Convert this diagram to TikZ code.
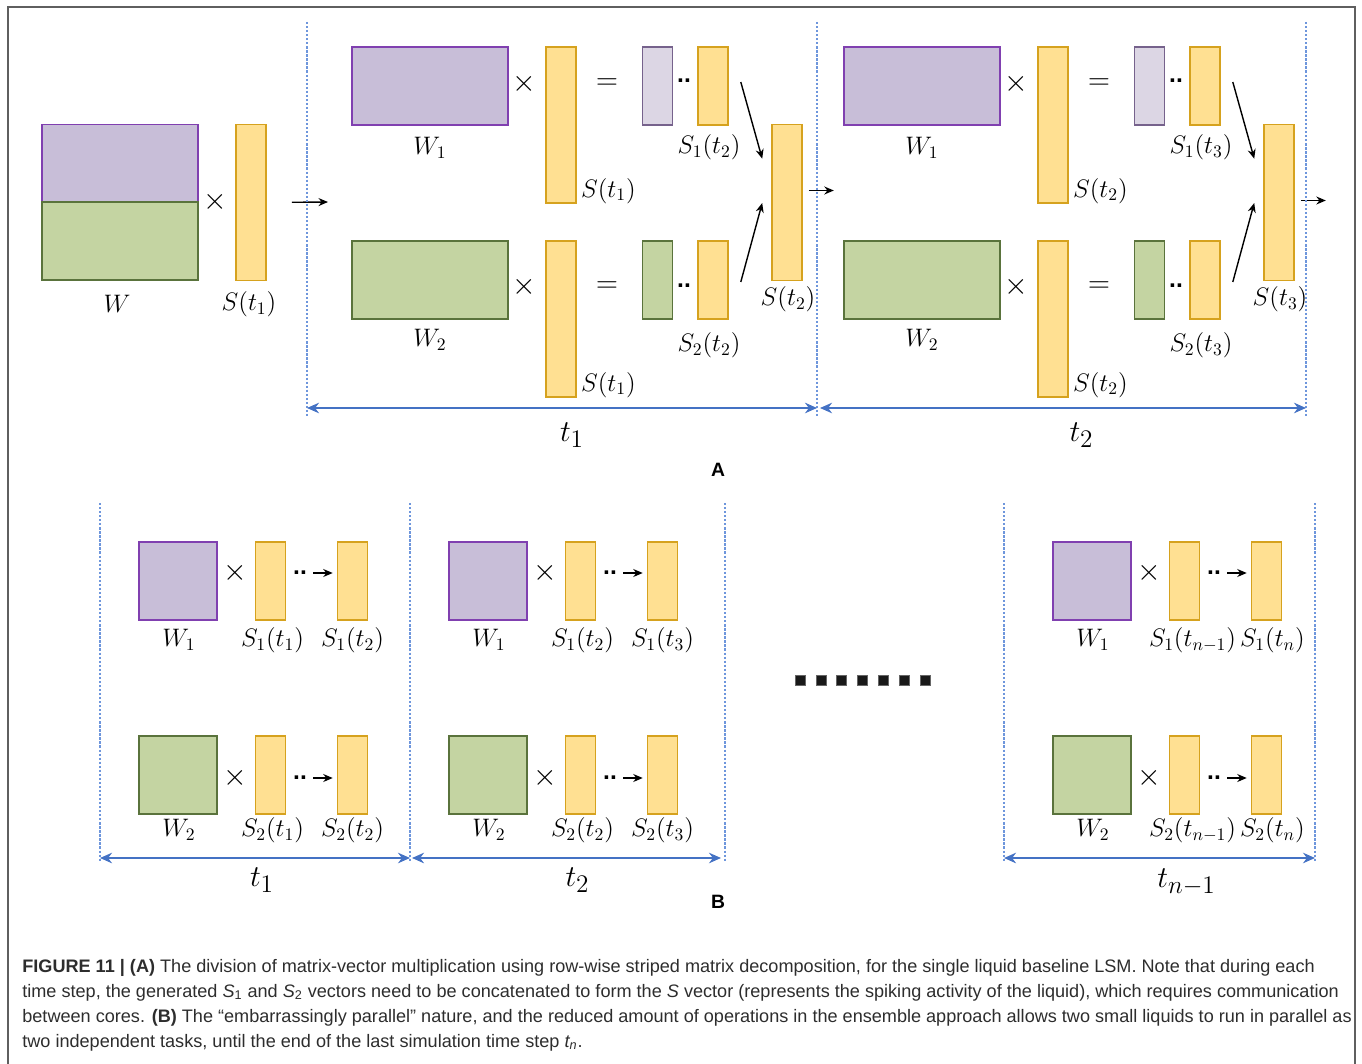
\documentclass[tikz,border=0pt]{standalone}
\usepackage{fontspec}
\usepackage{amsmath}
\setsansfont{Liberation Sans}
\newfontfamily\capfont{Liberation Sans}
\usetikzlibrary{calc}
\usetikzlibrary{positioning}
\usetikzlibrary{arrows.meta}
\definecolor{matpurple}{RGB}{128,64,176}
\definecolor{matpurplefill}{RGB}{200,190,216}
\definecolor{respurple}{RGB}{118,98,140}
\definecolor{respurplefill}{RGB}{220,214,228}
\definecolor{matgreen}{RGB}{90,115,60}
\definecolor{matgreenfill}{RGB}{196,212,162}
\definecolor{vecgold}{RGB}{214,162,30}
\definecolor{vecfill}{RGB}{255,224,146}
\definecolor{stepblue}{RGB}{110,150,220}
\definecolor{arrowblue}{RGB}{68,114,196}
\definecolor{framegray}{RGB}{95,95,95}
\definecolor{captext}{RGB}{45,45,45}
\tikzstyle{matnode} = [draw, rectangle, line width=0.9pt, inner sep=0pt]
\tikzstyle{colorP} = [draw=matpurple, fill=matpurplefill]
\tikzstyle{colorG} = [draw=matgreen, fill=matgreenfill]
\tikzstyle{colorL} = [draw=respurple, fill=respurplefill]
\tikzstyle{colorY} = [draw=vecgold, fill=vecfill]
\tikzstyle{bigmat} = [matnode, minimum width=3.12cm, minimum height=1.56cm]
\tikzstyle{sqmat} = [matnode, minimum width=1.56cm, minimum height=1.56cm]
\tikzstyle{longvec} = [matnode, colorY, minimum width=0.6cm, minimum height=3.12cm]
\tikzstyle{shortvec} = [matnode, minimum width=0.6cm, minimum height=1.56cm]
\tikzstyle{lbl} = [font=\fontsize{14}{16}\selectfont, inner sep=0pt]
\tikzstyle{steplbl} = [font=\fontsize{19}{21}\selectfont, inner sep=0pt]
\tikzstyle{opsym} = [font=\fontsize{18}{20}\selectfont, inner sep=0pt]
\tikzstyle{dotpair} = [font=\sffamily\bfseries\fontsize{14}{16}\selectfont, inner sep=0pt]
\tikzstyle{dotsq} = [fill=black!90, draw=black!60, line width=0.2pt, minimum size=0.2cm, inner sep=0pt]
\tikzstyle{panellbl} = [font=\sffamily\bfseries\fontsize{11}{13}\selectfont, inner sep=0pt]
\tikzstyle{stepline} = [draw=stepblue, line width=0.6pt, dash pattern=on 1.3pt off 1pt]
\tikzstyle{steparrow} = [draw=arrowblue, line width=1.1pt, {Stealth[length=2.4mm,width=2.1mm]}-{Stealth[length=2.4mm,width=2.1mm]}]
\tikzstyle{joinarrow} = [-{Stealth[length=1.9mm,width=1.6mm]}, line width=0.8pt]
\tikzstyle{capline} = [font=\capfont\fontsize{10.3}{12}\selectfont, text=captext, anchor=base west, inner sep=0pt]

\begin{document}
\begin{tikzpicture}[x=0.02cm, y=-0.02cm]
\useasboundingbox (0,0) rectangle (1362,1064);
\draw[framegray, line width=1.1pt] (8,1064) -- (8,7) -- (1355,7) -- (1355,1064);

% (A) whole product
\node[bigmat, colorP] (Wtop) at (120,163.5) {};
\node[bigmat, colorG] (Wbot) at (120,241) {};
\node[lbl] (Wlab) at ($(Wbot)+(-3,63)$) {$W$};
\node[opsym] (times0) at (215,202) {$\times$};
\node[longvec] (S0) at (251,202.5) {};
\node[lbl] (S0lab) at ($(S0)+(-2,102)$) {$S(t_1)$};
\coordinate (in1) at (328,202);
\draw[joinarrow, shorten <=0.5cm] (S0.east) -- (in1);

% (A) two time steps
\foreach \s/\n/\dx/\ay in {1/2/0/-12, 2/3/492/-2}{
\begin{scope}[xshift=\dx*0.02cm]
    \node[bigmat, colorP] (Wu\s) at (430,86) {};
    \node[lbl] (Wulab\s) at ($(Wu\s)+(0,62)$) {$W_1$};
    \node[opsym] (xu\s) at (524,84) {$\times$};
    \node[longvec] (Su\s) at (561,125) {};
    \node[lbl, anchor=west] (Sulab\s) at ($(Su\s.south east)+(4,-13)$) {$S(t_\s)$};
    \node[opsym] (equ\s) at (607,84) {$=$};
    \node[shortvec, colorL] (Ru\s) at (657.5,86) {};
    \node[dotpair] (du\s) at (684,81) {..};
    \node[shortvec, colorY] (Yu\s) at (713,86) {};
    \node[lbl] (Yulab\s) at ($(Yu\s)+(-4,61)$) {$S_1(t_\n)$};

    \node[bigmat, colorG] (Wl\s) at (430,280) {};
    \node[lbl] (Wllab\s) at ($(Wl\s)+(0,60)$) {$W_2$};
    \node[opsym] (xl\s) at (524,287) {$\times$};
    \node[longvec] (Sl\s) at (561,319) {};
    \node[lbl, anchor=west] (Sllab\s) at ($(Sl\s.south east)+(4,-13)$) {$S(t_\s)$};
    \node[opsym] (eql\s) at (607,287) {$=$};
    \node[shortvec, colorG] (Rl\s) at (657.5,280) {};
    \node[dotpair] (dl\s) at (684,286) {..};
    \node[shortvec, colorY] (Yl\s) at (713,280) {};
    \node[lbl] (Yllab\s) at ($(Yl\s)+(-4,65)$) {$S_2(t_\n)$};

    \node[longvec] (C\s) at (787,202.5) {};
    \node[lbl] (Clab\s) at ($(C\s)+(1,97)$) {$S(t_\n)$};
    \draw[joinarrow] ($(Yu\s.east)+(12,-4)$) -- ($(C\s.north west)+(-9,35)$);
    \draw[joinarrow] ($(Yl\s.east)+(12,2)$) -- ($(C\s.west)+(-9,0.5)$);
    \coordinate (out\s) at ($(C\s.east)+(31,\ay)$);
    \draw[joinarrow] ($(C\s.east)+(6,\ay)$) -- (out\s);
\end{scope}
}

% (A) time step marks
\coordinate (a0) at (307,408);
\coordinate (a1) at (817,408);
\coordinate (a2) at (1306,408);
\foreach \c in {a0,a1,a2}
    \draw[stepline] ($(\c)+(0,-386)$) -- ($(\c)+(0,10)$);
\draw[steparrow] (a0) -- (a1);
\draw[steparrow] ($(a1)+(3,0)$) -- (a2);
\node[steplbl] (tA1) at ($(a0)!0.5!(a1)+(10,27)$) {$t_1$};
\node[steplbl] (tA2) at ($(a1)!0.5!(a2)+(20,27)$) {$t_2$};
\node[panellbl] (labA) at (718,470) {A};

% (B) independent liquids
\foreach \g/\dx in {1/0, 2/310, 3/914}{
\begin{scope}[xshift=\dx*0.02cm]
    \node[sqmat, colorP] (Bu\g) at (178,581) {};
    \node[lbl] (Bulab\g) at ($(Bu\g)+(1,59)$) {$W_1$};
    \node[opsym] (bxu\g) at (235,573) {$\times$};
    \node[shortvec, colorY] (Pu\g) at (270.5,581) {};
    \node[shortvec, colorY] (Qu\g) at (352.5,581) {};
    \node[dotpair] (Du\g) at (300,573) {..};
    \draw[joinarrow, shorten <=0.12cm, shorten >=0.08cm] (Du\g.east) -- (Du\g.east -| Qu\g.west);

    \node[sqmat, colorG] (Bl\g) at (178,775) {};
    \node[lbl] (Bllab\g) at ($(Bl\g)+(1,55)$) {$W_2$};
    \node[opsym] (bxl\g) at (235,778) {$\times$};
    \node[shortvec, colorY] (Pl\g) at (270.5,775) {};
    \node[shortvec, colorY] (Ql\g) at (352.5,775) {};
    \node[dotpair] (Dl\g) at (300,778) {..};
    \draw[joinarrow, shorten <=0.12cm, shorten >=0.08cm] (Dl\g.east) -- (Dl\g.east -| Ql\g.west);
\end{scope}
}
\foreach \g/\a/\b/\sh in {1/1/2/0, 2/2/3/0, 3/{n-1}/n/6}{
    \node[lbl] (Pulab\g) at ($(Pu\g)+(2+\sh,59)$) {$S_1(t_{\a})$};
    \node[lbl] (Qulab\g) at ($(Qu\g)+(\sh,59)$) {$S_1(t_{\b})$};
    \node[lbl] (Pllab\g) at ($(Pl\g)+(2+\sh,55)$) {$S_2(t_{\a})$};
    \node[lbl] (Qllab\g) at ($(Ql\g)+(\sh,55)$) {$S_2(t_{\b})$};
}

% (B) gap between steps
\foreach \k in {0,...,6}
    \node[dotsq] (el\k) at (800+20.8*\k,680) {};

% (B) time step marks
\coordinate (b0) at (100,858);
\coordinate (b1) at (410,858);
\coordinate (b2) at (725,858);
\coordinate (b3) at (1004,858);
\coordinate (b4) at (1315,858);
\foreach \c in {b0,b1,b2,b3,b4}
    \draw[stepline] ($(\c)+(0,-355)$) -- ($(\c)+(0,4)$);
\draw[steparrow] (b0) -- (b1);
\draw[steparrow] ($(b1)+(2,0)$) -- ($(b2)+(-4,0)$);
\draw[steparrow] (b3) -- (b4);
\node[steplbl] (tB1) at ($(b0)!0.5!(b1)+(7,22)$) {$t_1$};
\node[steplbl] (tB2) at ($(b1)!0.5!(b2)+(10,22)$) {$t_2$};
\node[steplbl] (tB3) at ($(b3)!0.5!(b4)+(27,24)$) {$t_{n-1}$};
\node[panellbl] (labB) at (718,902) {B};

% caption
\node[capline] (cap1) at (22,972) {\textbf{FIGURE 11 | (A)} The division of matrix-vector multiplication using row-wise striped matrix decomposition, for the single liquid baseline LSM. Note that during each};
\node[capline] (cap2) at (22,997) {time step, the generated {\itshape S}\textsubscript{1} and {\itshape S}\textsubscript{2} vectors need to be concatenated to form the {\itshape S} vector (represents the spiking activity of the liquid), which requires communication};
\node[capline] (cap3) at (22,1022) {between cores. \textbf{(B)} The “embarrassingly parallel” nature, and the reduced amount of operations in the ensemble approach allows two small liquids to run in parallel as};
\node[capline] (cap4) at (22,1047) {two independent tasks, until the end of the last simulation time step {\itshape t\textsubscript{n}}.};
\end{tikzpicture}
\end{document}
